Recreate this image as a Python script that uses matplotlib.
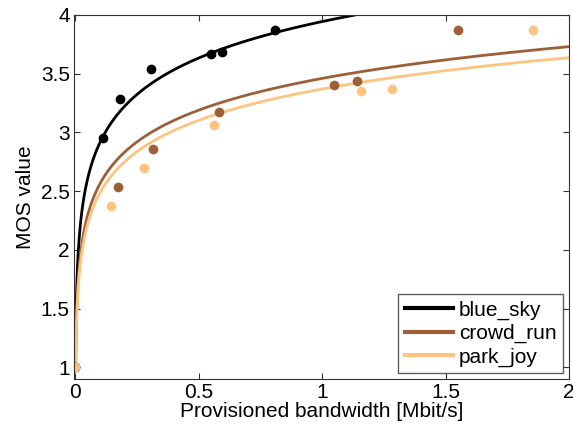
import numpy as np
from matplotlib import pyplot as plt

plt.rcParams['font.family'] = ['Liberation Sans', 'DejaVu Sans']

# measured MOS points (bandwidth in Mbit/s)
blue_sky_x = [0.0, 0.113, 0.18, 0.306, 0.551, 0.595, 0.811]
blue_sky_y = [1.0, 2.957, 3.286, 3.543, 3.672, 3.686, 3.871]
crowd_run_x = [0.0, 0.175, 0.316, 0.582, 1.049, 1.141, 1.549]
crowd_run_y = [1.0, 2.537, 2.857, 3.171, 3.406, 3.434, 3.871]
park_joy_x = [0.0, 0.147, 0.279, 0.562, 1.158, 1.282, 1.856]
park_joy_y = [1.0, 2.372, 2.695, 3.063, 3.349, 3.371, 3.871]

# logarithmic fit parameters: MOS = a*ln(x) + b
fit_a = [0.448, 0.39, 0.385]
fit_b = [3.944, 3.46, 3.37]

names = ['blue_sky', 'crowd_run', 'park_joy']
colors = ['#000000', '#9c6039', '#fdc47f']
xs = [blue_sky_x, crowd_run_x, park_joy_x]
ys = [blue_sky_y, crowd_run_y, park_joy_y]


def log_fit(x, a, b):
    return a*np.log(x) + b


fig = plt.figure(figsize=(5.73, 4.28), dpi=100)
ax = fig.add_axes([0.129, 0.114, 0.864, 0.851])

for name, c, a, b in zip(names, colors, fit_a, fit_b):
    x0 = np.exp((1 - b) / a)
    xx = np.geomspace(x0, 2.0, 400)
    ax.plot(xx, log_fit(xx, a, b), color=c, lw=2, label=name)

for x, y, c in zip(xs, ys, colors):
    ax.plot(x, y, 'o', color=c, ms=7, mec='none')

ax.set_xlim(-0.005, 2)
ax.set_ylim(0.9, 4)
ax.set_xticks([0, 0.5, 1, 1.5, 2])
ax.set_xticklabels(['0', '0.5', '1', '1.5', '2'])
ax.set_yticks([1, 1.5, 2, 2.5, 3, 3.5, 4])
ax.set_yticklabels(['1', '1.5', '2', '2.5', '3', '3.5', '4'])
ax.tick_params(direction='in', top=True, right=True, labelsize=15, length=4,
               color='#333333', pad=3)
for s in ax.spines.values():
    s.set_color('#333333')
ax.set_xlabel('Provisioned bandwidth [Mbit/s]', fontsize=15, labelpad=0)
ax.set_ylabel('MOS value', fontsize=15, labelpad=4)

leg = ax.legend(loc='lower right', fontsize=15, handlelength=2.3, fancybox=False,
                borderpad=0.3, labelspacing=0.2, handletextpad=0.3, borderaxespad=0.3)
leg.get_frame().set_edgecolor('#333333')
leg.get_frame().set_linewidth(1)
for line in leg.get_lines():
    line.set_linewidth(3)

fig.savefig('out.png', dpi=100)
